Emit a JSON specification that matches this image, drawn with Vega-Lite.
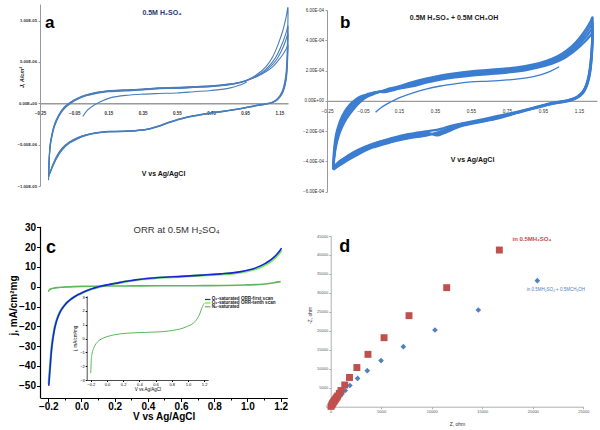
{
"$schema": "https://vega.github.io/schema/vega-lite/v6.json",
"width": 600, "height": 430, "padding": 0, "autosize": {"type": "none"},
"background": "#ffffff",
"config": {"view": {"stroke": null}, "font": "Liberation Sans", "axis": {"grid": false, "labelOverlap": false, "labelFlush": false}},
"datasets": {
"aCV": [
{"i":0,"v":-0.2,"c1":-9.3e-6,"c2":-9.0e-6,"c3":-8.8e-6,"c4":-8.6e-6},
{"i":1,"v":-0.198,"c1":-8.0e-6,"c2":-7.8e-6,"c3":-7.6e-6,"c4":-7.4e-6},
{"i":2,"v":-0.195,"c1":-6.5e-6,"c2":-6.4e-6,"c3":-6.2e-6,"c4":-6.0e-6},
{"i":3,"v":-0.19,"c1":-5.2e-6,"c2":-5.1e-6,"c3":-5.0e-6,"c4":-4.8e-6},
{"i":4,"v":-0.18,"c1":-4.0e-6,"c2":-3.9e-6,"c3":-3.8e-6,"c4":-3.7e-6},
{"i":5,"v":-0.165,"c1":-2.8e-6,"c2":-2.7e-6,"c3":-2.6e-6,"c4":-2.5e-6},
{"i":6,"v":-0.14,"c1":-1.6e-6,"c2":-1.5e-6,"c3":-1.45e-6,"c4":-1.4e-6},
{"i":7,"v":-0.11,"c1":-0.7e-6,"c2":-0.6e-6,"c3":-0.55e-6,"c4":-0.5e-6},
{"i":8,"v":-0.07,"c1":0,"c2":0.1e-6,"c3":0.12e-6,"c4":0.15e-6},
{"i":9,"v":-0.03,"c1":0.5e-6,"c2":0.55e-6,"c3":0.6e-6,"c4":0.62e-6},
{"i":10,"v":0.02,"c1":0.9e-6,"c2":0.95e-6,"c3":1.0e-6,"c4":1.02e-6},
{"i":11,"v":0.08,"c1":1.2e-6,"c2":1.25e-6,"c3":1.3e-6,"c4":1.32e-6},
{"i":12,"v":0.15,"c1":1.4e-6,"c2":1.45e-6,"c3":1.5e-6,"c4":1.52e-6},
{"i":13,"v":0.25,"c1":1.5e-6,"c2":1.55e-6,"c3":1.6e-6,"c4":1.62e-6},
{"i":14,"v":0.35,"c1":1.6e-6,"c2":1.65e-6,"c3":1.7e-6,"c4":1.72e-6},
{"i":15,"v":0.45,"c1":1.75e-6,"c2":1.8e-6,"c3":1.85e-6,"c4":1.87e-6},
{"i":16,"v":0.55,"c1":1.8e-6,"c2":1.85e-6,"c3":1.9e-6,"c4":1.92e-6},
{"i":17,"v":0.65,"c1":1.9e-6,"c2":1.95e-6,"c3":2.0e-6,"c4":2.02e-6},
{"i":18,"v":0.75,"c1":2.0e-6,"c2":2.05e-6,"c3":2.1e-6,"c4":2.12e-6},
{"i":19,"v":0.85,"c1":2.2e-6,"c2":2.25e-6,"c3":2.3e-6,"c4":2.32e-6},
{"i":20,"v":0.92,"c1":2.5e-6,"c2":2.5e-6,"c3":2.55e-6,"c4":2.55e-6},
{"i":21,"v":0.97,"c1":2.9e-6,"c2":2.85e-6,"c3":2.85e-6,"c4":2.85e-6},
{"i":22,"v":1.02,"c1":3.5e-6,"c2":3.35e-6,"c3":3.3e-6,"c4":3.25e-6},
{"i":23,"v":1.07,"c1":4.4e-6,"c2":4.1e-6,"c3":3.95e-6,"c4":3.8e-6},
{"i":24,"v":1.11,"c1":5.6e-6,"c2":5.0e-6,"c3":4.7e-6,"c4":4.4e-6},
{"i":25,"v":1.14,"c1":7.0e-6,"c2":6.0e-6,"c3":5.5e-6,"c4":5.1e-6},
{"i":26,"v":1.17,"c1":8.8e-6,"c2":7.4e-6,"c3":6.7e-6,"c4":5.9e-6},
{"i":27,"v":1.19,"c1":10.5e-6,"c2":8.6e-6,"c3":7.8e-6,"c4":6.6e-6},
{"i":28,"v":1.2,"c1":11.5e-6,"c2":9.3e-6,"c3":8.4e-6,"c4":7.0e-6},
{"i":29,"v":1.198,"c1":8.5e-6,"c2":7.0e-6,"c3":6.3e-6,"c4":5.4e-6},
{"i":30,"v":1.195,"c1":6.0e-6,"c2":5.0e-6,"c3":4.6e-6,"c4":4.0e-6},
{"i":31,"v":1.19,"c1":4.0e-6,"c2":3.4e-6,"c3":3.2e-6,"c4":2.9e-6},
{"i":32,"v":1.18,"c1":2.5e-6,"c2":2.2e-6,"c3":2.1e-6,"c4":1.9e-6},
{"i":33,"v":1.165,"c1":1.4e-6,"c2":1.25e-6,"c3":1.2e-6,"c4":1.1e-6},
{"i":34,"v":1.14,"c1":0.6e-6,"c2":0.55e-6,"c3":0.5e-6,"c4":0.45e-6},
{"i":35,"v":1.11,"c1":0.15e-6,"c2":0.12e-6,"c3":0.1e-6,"c4":0.08e-6},
{"i":36,"v":1.07,"c1":-0.05e-6,"c2":-0.08e-6,"c3":-0.1e-6,"c4":-0.12e-6},
{"i":37,"v":1.0,"c1":-0.3e-6,"c2":-0.32e-6,"c3":-0.35e-6,"c4":-0.37e-6},
{"i":38,"v":0.9,"c1":-0.7e-6,"c2":-0.72e-6,"c3":-0.74e-6,"c4":-0.76e-6},
{"i":39,"v":0.8,"c1":-1.0e-6,"c2":-1.02e-6,"c3":-1.05e-6,"c4":-1.07e-6},
{"i":40,"v":0.7,"c1":-1.3e-6,"c2":-1.32e-6,"c3":-1.35e-6,"c4":-1.37e-6},
{"i":41,"v":0.6,"c1":-1.7e-6,"c2":-1.72e-6,"c3":-1.75e-6,"c4":-1.77e-6},
{"i":42,"v":0.5,"c1":-2.3e-6,"c2":-2.32e-6,"c3":-2.35e-6,"c4":-2.37e-6},
{"i":43,"v":0.45,"c1":-2.7e-6,"c2":-2.72e-6,"c3":-2.75e-6,"c4":-2.77e-6},
{"i":44,"v":0.4,"c1":-3.0e-6,"c2":-3.02e-6,"c3":-3.05e-6,"c4":-3.07e-6},
{"i":45,"v":0.35,"c1":-3.2e-6,"c2":-3.22e-6,"c3":-3.25e-6,"c4":-3.27e-6},
{"i":46,"v":0.25,"c1":-3.35e-6,"c2":-3.37e-6,"c3":-3.4e-6,"c4":-3.42e-6},
{"i":47,"v":0.15,"c1":-3.4e-6,"c2":-3.42e-6,"c3":-3.45e-6,"c4":-3.47e-6},
{"i":48,"v":0.08,"c1":-3.55e-6,"c2":-3.57e-6,"c3":-3.6e-6,"c4":-3.62e-6},
{"i":49,"v":0.02,"c1":-3.8e-6,"c2":-3.82e-6,"c3":-3.85e-6,"c4":-3.88e-6},
{"i":50,"v":-0.03,"c1":-4.15e-6,"c2":-4.2e-6,"c3":-4.25e-6,"c4":-4.3e-6},
{"i":51,"v":-0.08,"c1":-4.7e-6,"c2":-4.75e-6,"c3":-4.8e-6,"c4":-4.85e-6},
{"i":52,"v":-0.12,"c1":-5.4e-6,"c2":-5.5e-6,"c3":-5.6e-6,"c4":-5.65e-6},
{"i":53,"v":-0.15,"c1":-6.3e-6,"c2":-6.4e-6,"c3":-6.5e-6,"c4":-6.55e-6},
{"i":54,"v":-0.175,"c1":-7.4e-6,"c2":-7.5e-6,"c3":-7.6e-6,"c4":-7.6e-6},
{"i":55,"v":-0.19,"c1":-8.3e-6,"c2":-8.3e-6,"c3":-8.3e-6,"c4":-8.3e-6},
{"i":56,"v":-0.2,"c1":-9.0e-6,"c2":-8.8e-6,"c3":-8.6e-6,"c4":-8.5e-6}
],
"aInit": [
{"i":0,"v":0.0,"j":-1.6e-6},{"i":1,"v":0.02,"j":-1.0e-6},{"i":2,"v":0.05,"j":-0.45e-6},{"i":3,"v":0.1,"j":0.15e-6},{"i":4,"v":0.16,"j":0.65e-6},{"i":5,"v":0.25,"j":0.95e-6},{"i":6,"v":0.35,"j":1.1e-6},{"i":7,"v":0.45,"j":1.18e-6},{"i":8,"v":0.55,"j":1.25e-6},{"i":9,"v":0.65,"j":1.4e-6},{"i":10,"v":0.75,"j":1.55e-6},{"i":11,"v":0.85,"j":1.8e-6},{"i":12,"v":0.92,"j":2.2e-6},{"i":13,"v":0.96,"j":2.6e-6}
],
"bCV": [
{"i":0,"v":-0.215,"y1":-4.55e-4,"y2":-4.5e-4,"y3":-4.45e-4,"y4":-4.4e-4},
{"i":1,"v":-0.21,"y1":-3.8e-4,"y2":-3.6e-4,"y3":-3.4e-4,"y4":-3.2e-4},
{"i":2,"v":-0.2,"y1":-3.0e-4,"y2":-2.75e-4,"y3":-2.5e-4,"y4":-2.25e-4},
{"i":3,"v":-0.185,"y1":-2.3e-4,"y2":-2.05e-4,"y3":-1.8e-4,"y4":-1.6e-4},
{"i":4,"v":-0.165,"y1":-1.7e-4,"y2":-1.45e-4,"y3":-1.2e-4,"y4":-1.0e-4},
{"i":5,"v":-0.14,"y1":-1.15e-4,"y2":-0.92e-4,"y3":-0.7e-4,"y4":-0.5e-4},
{"i":6,"v":-0.11,"y1":-0.65e-4,"y2":-0.45e-4,"y3":-0.25e-4,"y4":-0.1e-4},
{"i":7,"v":-0.07,"y1":-0.12e-4,"y2":0.03e-4,"y3":0.15e-4,"y4":0.25e-4},
{"i":8,"v":-0.03,"y1":0.25e-4,"y2":0.32e-4,"y3":0.38e-4,"y4":0.42e-4},
{"i":9,"v":0.02,"y1":0.5e-4,"y2":0.53e-4,"y3":0.56e-4,"y4":0.58e-4},
{"i":10,"v":0.08,"y1":0.75e-4,"y2":0.7e-4,"y3":0.65e-4,"y4":0.6e-4},
{"i":11,"v":0.15,"y1":0.95e-4,"y2":0.9e-4,"y3":0.85e-4,"y4":0.8e-4},
{"i":12,"v":0.22,"y1":1.22e-4,"y2":1.12e-4,"y3":1.02e-4,"y4":0.95e-4},
{"i":13,"v":0.3,"y1":1.47e-4,"y2":1.37e-4,"y3":1.27e-4,"y4":1.2e-4},
{"i":14,"v":0.38,"y1":1.67e-4,"y2":1.57e-4,"y3":1.47e-4,"y4":1.4e-4},
{"i":15,"v":0.46,"y1":1.82e-4,"y2":1.72e-4,"y3":1.62e-4,"y4":1.55e-4},
{"i":16,"v":0.55,"y1":1.94e-4,"y2":1.84e-4,"y3":1.74e-4,"y4":1.67e-4},
{"i":17,"v":0.65,"y1":2.04e-4,"y2":1.94e-4,"y3":1.84e-4,"y4":1.77e-4},
{"i":18,"v":0.75,"y1":2.14e-4,"y2":2.04e-4,"y3":1.94e-4,"y4":1.87e-4},
{"i":19,"v":0.85,"y1":2.3e-4,"y2":2.2e-4,"y3":2.1e-4,"y4":2.02e-4},
{"i":20,"v":0.93,"y1":2.5e-4,"y2":2.4e-4,"y3":2.3e-4,"y4":2.22e-4},
{"i":21,"v":1.0,"y1":2.77e-4,"y2":2.66e-4,"y3":2.55e-4,"y4":2.46e-4},
{"i":22,"v":1.06,"y1":3.15e-4,"y2":3.0e-4,"y3":2.86e-4,"y4":2.76e-4},
{"i":23,"v":1.11,"y1":3.6e-4,"y2":3.45e-4,"y3":3.3e-4,"y4":3.16e-4},
{"i":24,"v":1.15,"y1":4.1e-4,"y2":3.9e-4,"y3":3.72e-4,"y4":3.55e-4},
{"i":25,"v":1.19,"y1":4.75e-4,"y2":4.5e-4,"y3":4.25e-4,"y4":4.0e-4},
{"i":26,"v":1.215,"y1":5.25e-4,"y2":4.95e-4,"y3":4.65e-4,"y4":4.35e-4},
{"i":27,"v":1.225,"y1":5.5e-4,"y2":5.15e-4,"y3":4.8e-4,"y4":4.45e-4},
{"i":28,"v":1.225,"y1":4.8e-4,"y2":4.5e-4,"y3":4.2e-4,"y4":3.9e-4},
{"i":29,"v":1.222,"y1":3.7e-4,"y2":3.5e-4,"y3":3.3e-4,"y4":3.1e-4},
{"i":30,"v":1.215,"y1":2.6e-4,"y2":2.45e-4,"y3":2.3e-4,"y4":2.15e-4},
{"i":31,"v":1.205,"y1":1.75e-4,"y2":1.65e-4,"y3":1.55e-4,"y4":1.45e-4},
{"i":32,"v":1.19,"y1":1.05e-4,"y2":1.0e-4,"y3":0.95e-4,"y4":0.9e-4},
{"i":33,"v":1.17,"y1":0.6e-4,"y2":0.56e-4,"y3":0.52e-4,"y4":0.48e-4},
{"i":34,"v":1.14,"y1":0.28e-4,"y2":0.25e-4,"y3":0.22e-4,"y4":0.2e-4},
{"i":35,"v":1.1,"y1":0.08e-4,"y2":0.06e-4,"y3":0.04e-4,"y4":0.02e-4},
{"i":36,"v":1.05,"y1":-0.04e-4,"y2":-0.06e-4,"y3":-0.08e-4,"y4":-0.1e-4},
{"i":37,"v":1.0,"y1":-0.14e-4,"y2":-0.16e-4,"y3":-0.18e-4,"y4":-0.2e-4},
{"i":38,"v":0.9,"y1":-0.44e-4,"y2":-0.46e-4,"y3":-0.48e-4,"y4":-0.5e-4},
{"i":39,"v":0.8,"y1":-0.74e-4,"y2":-0.78e-4,"y3":-0.82e-4,"y4":-0.8e-4},
{"i":40,"v":0.7,"y1":-1.0e-4,"y2":-1.08e-4,"y3":-1.16e-4,"y4":-1.12e-4},
{"i":41,"v":0.6,"y1":-1.25e-4,"y2":-1.33e-4,"y3":-1.41e-4,"y4":-1.37e-4},
{"i":42,"v":0.5,"y1":-1.5e-4,"y2":-1.58e-4,"y3":-1.66e-4,"y4":-1.5e-4},
{"i":43,"v":0.44,"y1":-1.75e-4,"y2":-1.84e-4,"y3":-1.93e-4,"y4":-1.65e-4},
{"i":44,"v":0.4,"y1":-1.95e-4,"y2":-2.04e-4,"y3":-2.13e-4,"y4":-1.8e-4},
{"i":45,"v":0.36,"y1":-2.1e-4,"y2":-2.19e-4,"y3":-2.28e-4,"y4":-1.92e-4},
{"i":46,"v":0.3,"y1":-2.3e-4,"y2":-2.2e-4,"y3":-2.1e-4,"y4":-2.02e-4},
{"i":47,"v":0.2,"y1":-2.48e-4,"y2":-2.38e-4,"y3":-2.28e-4,"y4":-2.2e-4},
{"i":48,"v":0.1,"y1":-2.75e-4,"y2":-2.64e-4,"y3":-2.53e-4,"y4":-2.5e-4},
{"i":49,"v":0.0,"y1":-3.1e-4,"y2":-3.0e-4,"y3":-2.9e-4,"y4":-2.85e-4},
{"i":50,"v":-0.08,"y1":-3.55e-4,"y2":-3.43e-4,"y3":-3.31e-4,"y4":-3.25e-4},
{"i":51,"v":-0.14,"y1":-3.95e-4,"y2":-3.83e-4,"y3":-3.71e-4,"y4":-3.67e-4},
{"i":52,"v":-0.18,"y1":-4.26e-4,"y2":-4.14e-4,"y3":-4.02e-4,"y4":-3.98e-4},
{"i":53,"v":-0.215,"y1":-4.55e-4,"y2":-4.5e-4,"y3":-4.45e-4,"y4":-4.4e-4}
],
"bInit": [
{"i":0,"v":0.02,"j":-0.75e-4},{"i":1,"v":0.05,"j":-0.45e-4},{"i":2,"v":0.1,"j":-0.1e-4},{"i":3,"v":0.15,"j":0.2e-4},{"i":4,"v":0.22,"j":0.5e-4},{"i":5,"v":0.3,"j":0.78e-4},{"i":6,"v":0.38,"j":0.98e-4},{"i":7,"v":0.46,"j":1.12e-4},{"i":8,"v":0.55,"j":1.25e-4},{"i":9,"v":0.65,"j":1.3e-4},{"i":10,"v":0.75,"j":1.38e-4},{"i":11,"v":0.85,"j":1.5e-4},{"i":12,"v":0.93,"j":1.7e-4},{"i":13,"v":0.99,"j":1.95e-4},{"i":14,"v":1.04,"j":2.25e-4}
],
"cData": [
{"s":"first","v":-0.197,"j":-50},{"s":"first","v":-0.193,"j":-45},{"s":"first","v":-0.188,"j":-39.5},{"s":"first","v":-0.183,"j":-34},{"s":"first","v":-0.177,"j":-29},{"s":"first","v":-0.17,"j":-25},{"s":"first","v":-0.163,"j":-21.5},{"s":"first","v":-0.155,"j":-18.7},{"s":"first","v":-0.146,"j":-16.2},{"s":"first","v":-0.132,"j":-13.3},{"s":"first","v":-0.116,"j":-11},{"s":"first","v":-0.1,"j":-9.2},{"s":"first","v":-0.083,"j":-7.7},{"s":"first","v":-0.065,"j":-6.4},{"s":"first","v":-0.045,"j":-5.2},{"s":"first","v":-0.025,"j":-4.2},{"s":"first","v":-0.005,"j":-3.4},{"s":"first","v":0.02,"j":-2.4},{"s":"first","v":0.05,"j":-1.4},{"s":"first","v":0.08,"j":-0.6},{"s":"first","v":0.115,"j":0.2},{"s":"first","v":0.16,"j":1.0},{"s":"first","v":0.205,"j":1.7},{"s":"first","v":0.26,"j":2.6},{"s":"first","v":0.315,"j":3.3},{"s":"first","v":0.37,"j":3.9},{"s":"first","v":0.435,"j":4.4},{"s":"first","v":0.5,"j":4.8},{"s":"first","v":0.6,"j":5.2},{"s":"first","v":0.68,"j":5.6},{"s":"first","v":0.76,"j":6.0},{"s":"first","v":0.84,"j":6.5},{"s":"first","v":0.92,"j":7.1},{"s":"first","v":0.96,"j":7.6},{"s":"first","v":1.0,"j":8.3},{"s":"first","v":1.04,"j":9.2},{"s":"first","v":1.075,"j":10.4},{"s":"first","v":1.11,"j":11.9},{"s":"first","v":1.14,"j":13.5},{"s":"first","v":1.165,"j":15.3},{"s":"first","v":1.19,"j":17.6},{"s":"first","v":1.205,"j":19.5},
{"s":"tenth","v":-0.197,"j":-49},{"s":"tenth","v":-0.193,"j":-44},{"s":"tenth","v":-0.188,"j":-38.8},{"s":"tenth","v":-0.183,"j":-33.4},{"s":"tenth","v":-0.177,"j":-28.5},{"s":"tenth","v":-0.17,"j":-24.6},{"s":"tenth","v":-0.163,"j":-21.2},{"s":"tenth","v":-0.155,"j":-18.4},{"s":"tenth","v":-0.146,"j":-16},{"s":"tenth","v":-0.132,"j":-13.1},{"s":"tenth","v":-0.116,"j":-10.9},{"s":"tenth","v":-0.1,"j":-9.1},{"s":"tenth","v":-0.083,"j":-7.7},{"s":"tenth","v":-0.065,"j":-6.4},{"s":"tenth","v":-0.045,"j":-5.3},{"s":"tenth","v":-0.025,"j":-4.3},{"s":"tenth","v":-0.005,"j":-3.5},{"s":"tenth","v":0.02,"j":-2.5},{"s":"tenth","v":0.05,"j":-1.5},{"s":"tenth","v":0.08,"j":-0.7},{"s":"tenth","v":0.115,"j":0.1},{"s":"tenth","v":0.16,"j":0.9},{"s":"tenth","v":0.205,"j":1.6},{"s":"tenth","v":0.26,"j":2.5},{"s":"tenth","v":0.315,"j":3.2},{"s":"tenth","v":0.37,"j":3.8},{"s":"tenth","v":0.435,"j":4.3},{"s":"tenth","v":0.5,"j":4.7},{"s":"tenth","v":0.6,"j":5.1},{"s":"tenth","v":0.68,"j":5.5},{"s":"tenth","v":0.76,"j":5.9},{"s":"tenth","v":0.84,"j":6.3},{"s":"tenth","v":0.92,"j":6.8},{"s":"tenth","v":0.96,"j":7.3},{"s":"tenth","v":1.0,"j":7.9},{"s":"tenth","v":1.04,"j":8.7},{"s":"tenth","v":1.075,"j":9.8},{"s":"tenth","v":1.11,"j":11.2},{"s":"tenth","v":1.14,"j":12.7},{"s":"tenth","v":1.165,"j":14.5},{"s":"tenth","v":1.19,"j":16.7},{"s":"tenth","v":1.205,"j":18.6},
{"s":"N2","v":-0.2,"j":-2.5},{"s":"N2","v":-0.197,"j":-2.0},{"s":"N2","v":-0.194,"j":-1.6},{"s":"N2","v":-0.19,"j":-1.3},{"s":"N2","v":-0.183,"j":-1.05},{"s":"N2","v":-0.165,"j":-0.72},{"s":"N2","v":-0.147,"j":-0.48},{"s":"N2","v":-0.12,"j":-0.26},{"s":"N2","v":-0.086,"j":-0.09},{"s":"N2","v":-0.04,"j":0.05},{"s":"N2","v":0.0,"j":0.14},{"s":"N2","v":0.08,"j":0.26},{"s":"N2","v":0.16,"j":0.34},{"s":"N2","v":0.25,"j":0.39},{"s":"N2","v":0.37,"j":0.43},{"s":"N2","v":0.48,"j":0.45},{"s":"N2","v":0.58,"j":0.47},{"s":"N2","v":0.68,"j":0.5},{"s":"N2","v":0.78,"j":0.56},{"s":"N2","v":0.86,"j":0.64},{"s":"N2","v":0.94,"j":0.76},{"s":"N2","v":1.0,"j":0.9},{"s":"N2","v":1.05,"j":1.05},{"s":"N2","v":1.09,"j":1.25},{"s":"N2","v":1.12,"j":1.5},{"s":"N2","v":1.15,"j":1.85},{"s":"N2","v":1.17,"j":2.2},{"s":"N2","v":1.19,"j":2.45},{"s":"N2","v":1.2,"j":2.56}
],
"dRed": [
{"zr":16690,"zi":41300},{"zr":11480,"zi":31380},{"zr":7750,"zi":24000},{"zr":5280,"zi":18190},{"zr":3690,"zi":13800},{"zr":2590,"zi":10330},{"zr":1860,"zi":7700},{"zr":1390,"zi":5720},{"zr":1020,"zi":4260},{"zr":850,"zi":3530},{"zr":690,"zi":2830},{"zr":610,"zi":2500},{"zr":530,"zi":2210},{"zr":450,"zi":1900},{"zr":370,"zi":1580},{"zr":300,"zi":1300},{"zr":230,"zi":1050},{"zr":170,"zi":750},{"zr":110,"zi":460},{"zr":30,"zi":80}
],
"dBlue": [
{"zr":20450,"zi":33220},{"zr":14610,"zi":25490},{"zr":10320,"zi":20210},{"zr":7190,"zi":15820},{"zr":4980,"zi":12150},{"zr":3620,"zi":9500},{"zr":2660,"zi":7450},{"zr":1900,"zi":5580},{"zr":1440,"zi":4260},{"zr":1090,"zi":3270},{"zr":820,"zi":2480},{"zr":590,"zi":1770},{"zr":360,"zi":1050},{"zr":160,"zi":450},{"zr":40,"zi":80}
]
},
"resolve": {"scale": {"x": "independent", "y": "independent"}},
"layer": [
{
 "layer": [
  {"data": {"name": "aCV"}, "transform": [{"fold": ["c1", "c2", "c3", "c4"], "as": ["cycle", "j"]}], "mark": {"type": "line", "color": "#4a7ebb", "strokeWidth": 1.1, "interpolate": "cardinal"},
   "encoding": {
    "x": {"field": "v", "type": "quantitative", "scale": {"domain": [-0.25, 1.2], "range": [40, 288], "nice": false, "zero": false},
     "axis": {"orient": "bottom", "offset": -326.7, "values": [-0.25, -0.05, 0.15, 0.35, 0.55, 0.75, 0.95, 1.15], "format": ".2f", "ticks": false, "domainColor": "#9a9a9a", "domainWidth": 1.5, "labelFontSize": 4.5, "labelFontWeight": "bold", "labelColor": "#333333", "labelPadding": 7.5, "title": "V vs Ag/AgCl", "titleX": 163, "titleY": 70, "titleBaseline": "middle", "titleAlign": "center", "titleFontSize": 7, "titleFontWeight": "bold", "titleColor": "#111111"}},
    "y": {"field": "j", "type": "quantitative", "scale": {"domain": [-0.00001, 0.000012], "range": [186, 4], "nice": false, "zero": false},
     "axis": {"orient": "left", "offset": -40, "values": [-0.00001, -0.000005, 0, 0.000005, 0.00001], "labelExpr": "replace(replace(format(datum.value, '.2e'), 'e-', 'E-0'), 'e+', 'E+0')", "domainColor": "#9a9a9a", "tickColor": "#9a9a9a", "tickSize": 2, "labelFontSize": 4.2, "labelFontWeight": "bold", "labelColor": "#333333", "labelPadding": 1.5, "title": "J, A/cm²", "titleX": -19, "titleY": 77, "titleBaseline": "middle", "titleAlign": "center", "titleAngle": -90, "titleFontSize": 5.5, "titleFontWeight": "bold", "titleFontStyle": "italic", "titleColor": "#222222"}},
    "detail": {"field": "cycle", "type": "nominal"},
    "order": {"field": "i", "type": "quantitative"}
   }},
  {"data": {"name": "aInit"}, "mark": {"type": "line", "color": "#4a7ebb", "strokeWidth": 1.1, "interpolate": "cardinal"}, "encoding": {"x": {"field": "v", "type": "quantitative"}, "y": {"field": "j", "type": "quantitative"}, "order": {"field": "i", "type": "quantitative"}}},
  {"data": {"values": [{}]}, "mark": {"type": "text", "text": "a", "fontSize": 17, "fontWeight": "bold", "align": "left", "baseline": "middle", "color": "#000000"}, "encoding": {"x": {"datum": -0.221}, "y": {"datum": 0.0000097}}},
  {"data": {"values": [{}]}, "mark": {"type": "text", "text": "0.5M H₂SO₄", "fontSize": 7, "fontWeight": "bold", "align": "center", "baseline": "middle", "color": "#1f3a6e"}, "encoding": {"x": {"datum": 0.463}, "y": {"datum": 0.0000109}}}
 ]
},
{
 "layer": [
  {"data": {"name": "bCV"}, "transform": [{"fold": ["y1", "y2", "y3", "y4"], "as": ["cycle", "j"]}], "mark": {"type": "line", "color": "#3b7dd0", "strokeWidth": 2.3, "interpolate": "cardinal"},
   "encoding": {
    "x": {"field": "v", "type": "quantitative", "scale": {"domain": [-0.25, 1.25], "range": [327, 597], "nice": false, "zero": false},
     "axis": {"orient": "bottom", "offset": -329.2, "values": [-0.25, -0.05, 0.15, 0.35, 0.55, 0.75, 0.95, 1.15], "format": ".2f", "ticks": false, "domainColor": "#9a9a9a", "domainWidth": 1.2, "labelFontSize": 4.8, "labelColor": "#333333", "labelPadding": 8, "title": "V vs Ag/AgCl", "titleX": 472, "titleY": 58.2, "titleBaseline": "middle", "titleAlign": "center", "titleFontSize": 7, "titleFontWeight": "bold", "titleColor": "#111111"}},
    "y": {"field": "j", "type": "quantitative", "scale": {"domain": [-0.0006, 0.0006], "range": [191.7, 10], "nice": false, "zero": false},
     "axis": {"orient": "left", "offset": -327, "values": [-0.0006, -0.0004, -0.0002, 0, 0.0002, 0.0004, 0.0006], "labelExpr": "replace(replace(format(datum.value, '.2e'), 'e-', 'E-0'), 'e+', 'E+0')", "domainColor": "#9a9a9a", "tickColor": "#9a9a9a", "tickSize": 2, "labelFontSize": 4.5, "labelColor": "#333333", "labelPadding": 1.5, "title": null}},
    "detail": {"field": "cycle", "type": "nominal"},
    "order": {"field": "i", "type": "quantitative"}
   }},
  {"data": {"name": "bInit"}, "mark": {"type": "line", "color": "#3b7dd0", "strokeWidth": 1.3, "interpolate": "cardinal"}, "encoding": {"x": {"field": "v", "type": "quantitative"}, "y": {"field": "j", "type": "quantitative"}, "order": {"field": "i", "type": "quantitative"}}},
  {"data": {"values": [{}]}, "mark": {"type": "text", "text": "b", "fontSize": 17, "fontWeight": "bold", "align": "left", "baseline": "middle", "color": "#000000"}, "encoding": {"x": {"datum": -0.178}, "y": {"datum": 0.000514}}},
  {"data": {"values": [{}]}, "mark": {"type": "text", "text": "0.5M H₂SO₄ + 0.5M CH₃OH", "fontSize": 7, "fontWeight": "bold", "align": "center", "baseline": "middle", "color": "#1a1a1a"}, "encoding": {"x": {"datum": 0.456}, "y": {"datum": 0.000547}}}
 ]
},
{
 "layer": [
  {"data": {"name": "cData"}, "transform": [{"filter": "datum.s == 'tenth'"}], "mark": {"type": "line", "color": "#74ee5c", "strokeWidth": 2.4, "interpolate": "monotone"},
   "encoding": {
    "x": {"field": "v", "type": "quantitative", "scale": {"domain": [-0.25, 1.24], "range": [40, 287.3], "nice": false, "zero": false},
     "axis": {"orient": "bottom", "offset": -32, "values": [-0.2, -0.1, 0, 0.1, 0.2, 0.3, 0.4, 0.5, 0.6, 0.7, 0.8, 0.9, 1.0, 1.1, 1.2], "labelExpr": "round(datum.value * 10) % 2 == 0 ? format(datum.value, '.1f') : ''", "tickSize": {"condition": {"test": "round(datum.value * 10) % 2 != 0", "value": 2}, "value": 3.5}, "domainColor": "#000000", "domainWidth": 1.2, "tickColor": "#000000", "tickWidth": 1, "labelFontSize": 10, "labelFontWeight": "bold", "labelColor": "#000000", "labelPadding": 0, "title": "V vs Ag/AgCl", "titleFontSize": 10, "titleFontWeight": "bold", "titleColor": "#000000", "titlePadding": 0}},
    "y": {"field": "j", "type": "quantitative", "scale": {"domain": [-56, 30.5], "range": [397.6, 226.3], "nice": false, "zero": false},
     "axis": {"orient": "left", "offset": -40, "values": [-50, -45, -40, -35, -30, -25, -20, -15, -10, -5, 0, 5, 10, 15, 20, 25, 30], "labelExpr": "datum.value % 10 == 0 ? format(datum.value, 'd') : ''", "tickSize": {"condition": {"test": "datum.value % 10 != 0", "value": 2}, "value": 3.5}, "domainColor": "#000000", "domainWidth": 1.2, "tickColor": "#000000", "labelFontSize": 10, "labelFontWeight": "bold", "labelColor": "#000000", "labelPadding": 1, "title": "j, mA/cm²mg", "titleX": -27, "titleY": 305, "titleBaseline": "middle", "titleAlign": "center", "titleAngle": -90, "titleFontSize": 10, "titleFontWeight": "bold", "titleColor": "#000000"}}
   }},
  {"data": {"name": "cData"}, "transform": [{"filter": "datum.s == 'N2'"}], "mark": {"type": "line", "color": "#5cb85c", "strokeWidth": 1.6, "interpolate": "monotone"}, "encoding": {"x": {"field": "v", "type": "quantitative"}, "y": {"field": "j", "type": "quantitative"}}},
  {"data": {"name": "cData"}, "transform": [{"filter": "datum.s == 'first'"}], "mark": {"type": "line", "color": "#1f1fe0", "strokeWidth": 1.6, "interpolate": "monotone"}, "encoding": {"x": {"field": "v", "type": "quantitative"}, "y": {"field": "j", "type": "quantitative"}}},
  {"data": {"values": [{}]}, "mark": {"type": "rule", "color": "#1f1fe0", "strokeWidth": 1.2}, "encoding": {"x": {"datum": 0.744}, "x2": {"datum": 0.777}, "y": {"datum": -6.46}}},
  {"data": {"values": [{}]}, "mark": {"type": "rule", "color": "#74ee5c", "strokeWidth": 1.4}, "encoding": {"x": {"datum": 0.744}, "x2": {"datum": 0.777}, "y": {"datum": -8.23}}},
  {"data": {"values": [{}]}, "mark": {"type": "rule", "color": "#5cb85c", "strokeWidth": 1.2}, "encoding": {"x": {"datum": 0.744}, "x2": {"datum": 0.777}, "y": {"datum": -10.15}}},
  {"data": {"values": [{}]}, "mark": {"type": "text", "text": "O₂-saturated ORR-first scan", "fontSize": 4.6, "fontWeight": "bold", "align": "left", "baseline": "middle", "color": "#222222"}, "encoding": {"x": {"datum": 0.785}, "y": {"datum": -6.46}}},
  {"data": {"values": [{}]}, "mark": {"type": "text", "text": "O₂-saturated ORR-tenth scan", "fontSize": 4.6, "fontWeight": "bold", "align": "left", "baseline": "middle", "color": "#222222"}, "encoding": {"x": {"datum": 0.785}, "y": {"datum": -8.23}}},
  {"data": {"values": [{}]}, "mark": {"type": "text", "text": "N₂-saturated", "fontSize": 4.6, "fontWeight": "bold", "align": "left", "baseline": "middle", "color": "#222222"}, "encoding": {"x": {"datum": 0.785}, "y": {"datum": -10.15}}},
  {"data": {"values": [{}]}, "mark": {"type": "text", "text": "c", "fontSize": 18, "fontWeight": "bold", "align": "left", "baseline": "middle", "color": "#000000"}, "encoding": {"x": {"datum": -0.214}, "y": {"datum": 19.4}}},
  {"data": {"values": [{}]}, "mark": {"type": "text", "text": "ORR at 0.5M H₂SO₄", "fontSize": 9.5, "align": "center", "baseline": "middle", "color": "#333333"}, "encoding": {"x": {"datum": 0.573}, "y": {"datum": 28.6}}}
 ]
},
{
 "data": {"name": "cData"},
 "transform": [{"filter": "datum.s == 'N2'"}],
 "mark": {"type": "line", "color": "#5cb85c", "strokeWidth": 1, "interpolate": "monotone"},
 "encoding": {
  "x": {"field": "v", "type": "quantitative", "scale": {"domain": [-0.25, 1.25], "range": [86.7, 208.2], "nice": false, "zero": false},
   "axis": {"orient": "bottom", "offset": -50, "values": [-0.2, 0, 0.2, 0.4, 0.6, 0.8, 1.0, 1.2], "format": ".1f", "domainColor": "#000000", "domainWidth": 0.7, "tickColor": "#000000", "tickSize": 1.5, "labelFontSize": 4, "labelColor": "#000000", "labelPadding": 0.5, "title": "V vs Ag/AgCl", "titleFontSize": 4.5, "titleFontWeight": "normal", "titleColor": "#000000", "titlePadding": 0.5}},
  "y": {"field": "j", "type": "quantitative", "scale": {"domain": [-3, 3.1], "range": [380, 295.8], "nice": false, "zero": false},
   "axis": {"orient": "left", "offset": -86.7, "values": [-3, -2, -1, 0, 1, 2, 3], "format": "d", "domainColor": "#000000", "domainWidth": 0.7, "tickColor": "#000000", "tickSize": 1.5, "labelFontSize": 4, "labelColor": "#000000", "labelPadding": 1, "title": "j, mA/cm²mg", "titleFontSize": 4.5, "titleFontWeight": "normal", "titleColor": "#000000", "titlePadding": 2}}
 }
},
{
 "layer": [
  {"data": {"name": "dBlue"}, "mark": {"type": "point", "shape": "diamond", "filled": true, "color": "#4f81bd", "size": 32, "opacity": 1},
   "encoding": {
    "x": {"field": "zr", "type": "quantitative", "scale": {"domain": [0, 25000], "range": [330.7, 583.3], "nice": false, "zero": false},
     "axis": {"orient": "bottom", "offset": -23.3, "values": [0, 5000, 10000, 15000, 20000, 25000], "format": "d", "domainColor": "#b0b0b0", "tickColor": "#b0b0b0", "tickSize": 2, "labelFontSize": 4, "labelColor": "#555555", "labelPadding": 0.5, "title": "Z, ohm", "titleFontSize": 5, "titleFontWeight": "normal", "titleColor": "#333333", "titlePadding": 8}},
    "y": {"field": "zi", "type": "quantitative", "scale": {"domain": [0, 45000], "range": [406.7, 236], "nice": false, "zero": false},
     "axis": {"orient": "left", "offset": -330.7, "values": [0, 5000, 10000, 15000, 20000, 25000, 30000, 35000, 40000, 45000], "format": "d", "domainColor": "#b0b0b0", "tickColor": "#b0b0b0", "tickSize": 2, "labelFontSize": 4, "labelColor": "#555555", "labelPadding": 1, "title": "-Z, ohm", "titleFontSize": 5, "titleFontWeight": "normal", "titleColor": "#333333", "titlePadding": 4, "titleY": 315}}
   }},
  {"data": {"name": "dRed"}, "mark": {"type": "point", "shape": "square", "filled": true, "color": "#c0504d", "size": 48, "opacity": 1}, "encoding": {"x": {"field": "zr", "type": "quantitative"}, "y": {"field": "zi", "type": "quantitative"}}},
  {"data": {"values": [{}]}, "mark": {"type": "text", "text": "d", "fontSize": 18, "fontWeight": "bold", "align": "left", "baseline": "middle", "color": "#000000"}, "encoding": {"x": {"datum": 851}, "y": {"datum": 42180}}},
  {"data": {"values": [{}]}, "mark": {"type": "text", "text": "in 0.5MH₂SO₄", "fontSize": 6, "fontWeight": "bold", "align": "center", "baseline": "middle", "color": "#c0504d"}, "encoding": {"x": {"datum": 19915}, "y": {"datum": 44210}}},
  {"data": {"values": [{}]}, "mark": {"type": "text", "text": "in 0.5MH₂SO₄ + 0.5MCH₃OH", "fontSize": 4.5, "align": "center", "baseline": "middle", "color": "#4f81bd"}, "encoding": {"x": {"datum": 22290}, "y": {"datum": 30760}}}
 ]
}
]
}
